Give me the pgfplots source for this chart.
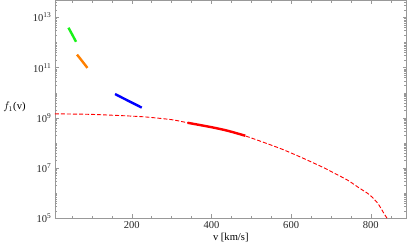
\documentclass[border=0pt]{standalone}
\usepackage{pgfplots}
\pgfplotsset{compat=1.18}
\usepackage{fontspec}
\setmainfont{Liberation Serif}
\definecolor{axgray}{gray}{0.6}
\definecolor{mgreen}{rgb}{0.1,0.95,0.1}
\definecolor{morange}{rgb}{1,0.5,0}
\begin{document}
\begin{tikzpicture}
\begin{axis}[
  scale only axis, width=350pt, height=217pt,
  ymode=log, log basis y=10,
  xmin=7, xmax=890, ymin=1e5, ymax=4.8e13,
  axis line style={axgray, line width=0.6pt},
  tick style={axgray, line width=0.5pt},
  major tick length=4pt, minor tick length=2.2pt,
  tick align=inside,
  xtick={200,400,600,800},
  minor xtick={50,100,150,250,300,350,450,500,550,650,700,750,850},
  ytick={1e5,1e7,1e9,1e11,1e13},
  yticklabels={10\textsuperscript{5},10\textsuperscript{7},10\textsuperscript{9},10\textsuperscript{11},10\textsuperscript{13}},
  minor ytick={2e5,3e5,4e5,5e5,6e5,7e5,8e5,9e5,1e6,2e6,3e6,4e6,5e6,6e6,7e6,8e6,9e6,
    2e7,3e7,4e7,5e7,6e7,7e7,8e7,9e7,1e8,2e8,3e8,4e8,5e8,6e8,7e8,8e8,9e8,
    2e9,3e9,4e9,5e9,6e9,7e9,8e9,9e9,1e10,2e10,3e10,4e10,5e10,6e10,7e10,8e10,9e10,
    2e11,3e11,4e11,5e11,6e11,7e11,8e11,9e11,1e12,2e12,3e12,4e12,5e12,6e12,7e12,8e12,9e12,
    2e13,3e13,4e13},
  xticklabel style={font=\fontsize{10.5}{12}\selectfont, text=black!85},
  yticklabel style={font=\fontsize{10.5}{12}\selectfont, text=black!85},
  /pgf/number format/assume math mode=true,
  xlabel={v [km/s]},
  xlabel style={font=\fontsize{10.5}{12}\selectfont, yshift=3pt},
  ylabel={$f_1$(v)},
  ylabel style={font=\fontsize{10.5}{12}\selectfont, rotate=-90, at={(axis description cs:-0.115,0.51)}, anchor=center},
  clip=true,
]
\addplot[red, line width=0.9pt, smooth, tension=0.4, dash pattern=on 4pt off 2pt] coordinates {
 (7,1.45e9) (100,1.38e9) (225,1.12e9) (300,8.5e8) (339,6.46e8) (400,4.27e8)
 (477,2.09e8) (527,1.12e8) (578,5.62e7) (628,2.57e7) (683,1.02e7) (712,5.89e6)
 (742,3.31e6) (771,1.62e6) (796,8.91e5) (817,4.07e5) (834,1.48e5) (843,8.9e4)
};
\addplot[red, line width=2.4pt, smooth] coordinates {
 (340,6.4e8) (400,4.27e8) (440,3.1e8) (485,1.95e8)
};
\addplot[mgreen, line width=2.4pt, smooth] coordinates {
 (41,3.89e12) (50,2.14e12) (60,1.07e12)
};
\addplot[morange, line width=2.4pt, smooth] coordinates {
 (62.5,3.31e11) (75,1.86e11) (88.6,9.77e10)
};
\addplot[blue, line width=2.4pt, smooth] coordinates {
 (158,8.91e9) (190,4.9e9) (225,2.57e9)
};
\end{axis}
\end{tikzpicture}
\end{document}
